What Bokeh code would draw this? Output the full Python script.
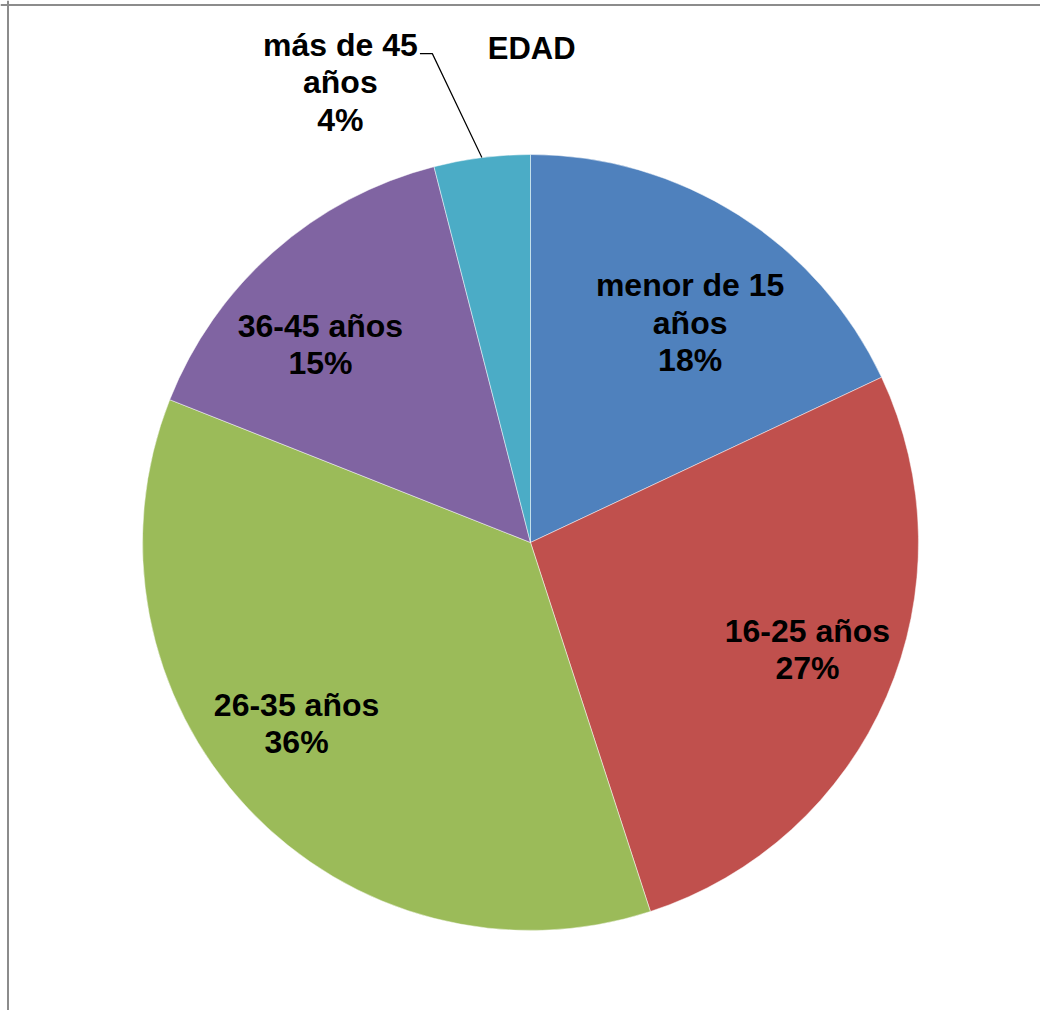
import math
from bokeh.plotting import figure
from bokeh.models import ColumnDataSource, Range1d, Label, Span
from bokeh.core.properties import value
from bokeh.embed import file_html
from bokeh.resources import INLINE

# ---- data ----
categories = ["menor de 15 años", "16-25 años", "26-35 años", "36-45 años", "más de 45 años"]
label_text = ["menor de 15\naños", "16-25 años", "26-35 años", "36-45 años", "más de 45\naños"]
percent = [18, 27, 36, 15, 4]
colors = ["#4F81BD", "#C0504D", "#9BBB59", "#8064A2", "#4BACC6"]
title_text = "EDAD"

# ---- layout constants (pixels) ----
W, H = 1040, 1010
R_PX = 388.0
CX, CY = 530.0, 542.0   # pie centre inside the frame, from top-left

total = float(sum(percent))
starts, ends, mids = [], [], []
cum = 0.0
for v in percent:
    a0 = cum / total * 2 * math.pi
    cum += v
    a1 = cum / total * 2 * math.pi
    starts.append(math.pi / 2 - a0)
    ends.append(math.pi / 2 - a1)
    mids.append((a0 + a1) / 2)  # clockwise from 12 o'clock

src = ColumnDataSource(dict(cat=categories, start=starts, end=ends, color=colors))

p = figure(width=W, height=H, output_backend="svg", toolbar_location=None,
           x_range=Range1d(-CX / R_PX, (W - CX) / R_PX),
           y_range=Range1d(-(H - CY) / R_PX, CY / R_PX),
           min_border=0, outline_line_color=None)
p.axis.visible = False
p.grid.visible = False
p.background_fill_color = "white"
p.border_fill_color = "white"

p.wedge(x=0, y=0, radius=1.0, start_angle="start", end_angle="end",
        direction="clock", fill_color="color", line_color="white",
        line_width=0.8, line_alpha=0.6, source=src)

# inside labels (polar placement around slice mid-angle)
label_radius = [0.70, 0.765, 0.762, 0.744]
label_nudge_deg = [3.6, -2.3, 5.5, -5.3]
lx, ly, lt = [], [], []
for i in range(4):
    th = mids[i] + math.radians(label_nudge_deg[i])
    lx.append(label_radius[i] * math.sin(th))
    ly.append(label_radius[i] * math.cos(th))
    lt.append(f"{label_text[i]}\n{percent[i]}%")

# outside label for the small slice, with leader line
out_x, out_y = -0.490, 1.186
lx.append(out_x)
ly.append(out_y)
lt.append(f"{label_text[4]}\n{percent[4]}%")

lab_src = ColumnDataSource(dict(x=lx, y=ly, text=lt))
p.text(x="x", y="y", text="text", source=lab_src,
       text_font=value("Liberation Sans"), text_font_style="bold",
       text_font_size="32px", text_color="black",
       text_align="center", text_baseline="middle", text_line_height=1.04)

edge_x = math.sin(mids[4])
edge_y = math.cos(mids[4])
elbow_x, elbow_y = out_x + 0.237, out_y + 0.074
p.line(x=[edge_x, elbow_x, elbow_x - 0.032], y=[edge_y, elbow_y, elbow_y],
       line_color="black", line_width=1.2)

p.add_layout(Label(x=0.003, y=1.272, text=title_text,
                   text_font="Liberation Sans", text_font_style="bold",
                   text_font_size="31px", text_color="black",
                   text_align="center", text_baseline="middle"))

# chart-area border (left and top edges visible in the reference)
p.add_layout(Span(location=-CX / R_PX + 7.5 / R_PX, dimension="height",
                  line_color="#8c8c8c", line_width=2))
p.add_layout(Span(location=CY / R_PX - 4.5 / R_PX, dimension="width",
                  line_color="#8c8c8c", line_width=2))

open("out.html", "w").write(file_html(p, INLINE))
